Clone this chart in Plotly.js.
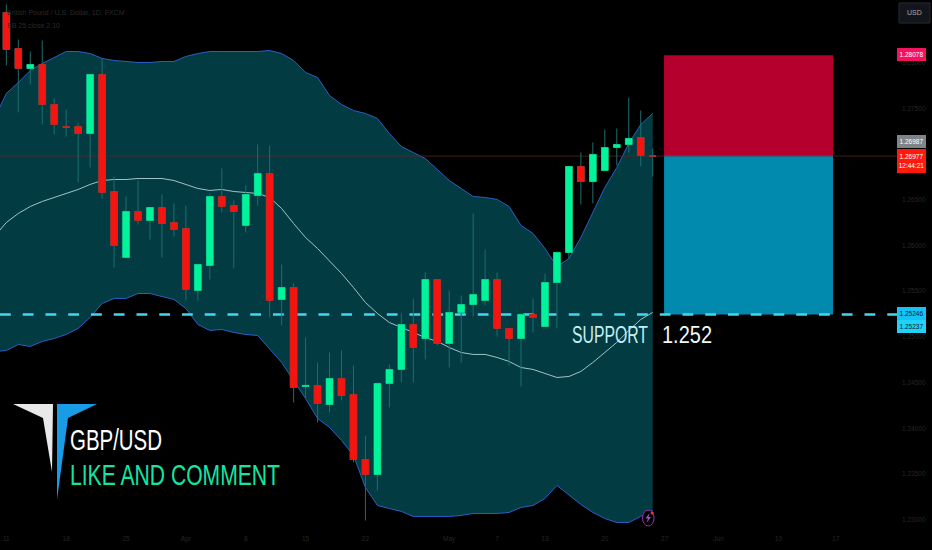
<!DOCTYPE html>
<html><head><meta charset="utf-8">
<script src="https://cdn.plot.ly/plotly-3.0.1.min.js"></script>
<style>html,body{margin:0;padding:0;background:#000}#c{width:932px;height:550px}</style></head>
<body><div id="c"></div>
<script>
const open_=[1.28547,1.28153,1.27935,1.27978,1.27541,1.27301,1.27301,1.27224,1.27869,1.26590,1.25869,1.26372,1.26273,1.26415,1.26251,1.26186,1.25508,1.25781,1.26535,1.26437,1.26219,1.26546,1.26787,1.25410,1.25541,1.24459,1.24470,1.24262,1.24546,1.24371,1.23661,1.23497,1.24492,1.24645,1.25136,1.24983,1.25628,1.24929,1.25268,1.25355,1.25399,1.25628,1.25093,1.24983,1.25246,1.25115,1.25595,1.25923,1.26863,1.26699,1.26820,1.27071,1.27104,1.27180,1.26980];
const high_=[1.28634,1.28251,1.28120,1.28241,1.27607,1.27486,1.27344,1.27869,1.28044,1.26754,1.26535,1.26710,1.26415,1.26557,1.26459,1.26437,1.25792,1.26568,1.26842,1.26492,1.26656,1.27104,1.27093,1.25792,1.25585,1.24994,1.24721,1.24830,1.24852,1.24688,1.23923,1.24492,1.24699,1.25257,1.25421,1.25705,1.25628,1.25508,1.25453,1.26350,1.25956,1.25705,1.25093,1.25257,1.25421,1.25694,1.25934,1.26863,1.27016,1.27126,1.27268,1.27279,1.27618,1.27475,1.27060];
const low_=[1.27967,1.27454,1.27760,1.27322,1.27213,1.27191,1.26688,1.26852,1.26514,1.25759,1.25869,1.26229,1.26065,1.25869,1.26098,1.25399,1.25399,1.25628,1.26361,1.25749,1.26142,1.26437,1.25213,1.25126,1.24284,1.24328,1.24065,1.24175,1.24306,1.23628,1.22994,1.23322,1.24229,1.24502,1.24502,1.24754,1.24907,1.24666,1.24721,1.25224,1.25344,1.25005,1.24688,1.24459,1.25049,1.25115,1.25093,1.25858,1.26448,1.26459,1.26820,1.26874,1.27016,1.26863,1.26754];
const close_=[1.28142,1.27935,1.27978,1.27541,1.27322,1.27290,1.27224,1.27869,1.26579,1.26000,1.26372,1.26273,1.26415,1.26240,1.26175,1.25519,1.25792,1.26535,1.26426,1.26372,1.26557,1.26787,1.25399,1.25541,1.24448,1.24470,1.24273,1.24546,1.24360,1.23661,1.23497,1.24492,1.24645,1.25136,1.24885,1.25628,1.24929,1.25268,1.25355,1.25464,1.25628,1.25093,1.24983,1.25246,1.25213,1.25595,1.25923,1.26863,1.26699,1.26995,1.27071,1.27104,1.27169,1.26984,1.26977];

const bbUpper=[1.27388,1.27661,1.27781,1.27913,1.27989,1.28055,1.28120,1.28120,1.28098,1.28044,1.28022,1.28011,1.28000,1.28000,1.28011,1.28011,1.28066,1.28098,1.28120,1.28120,1.28120,1.28120,1.28120,1.28131,1.28098,1.28022,1.27891,1.27836,1.27639,1.27541,1.27475,1.27443,1.27388,1.27224,1.27082,1.27016,1.26951,1.26831,1.26710,1.26623,1.26535,1.26525,1.26503,1.26426,1.26219,1.26131,1.25967,1.25770,1.25858,1.26087,1.26361,1.26634,1.26852,1.27115,1.27322,1.27443];
const bbBasis=[1.26098,1.26251,1.26350,1.26426,1.26481,1.26525,1.26568,1.26612,1.26667,1.26710,1.26721,1.26721,1.26732,1.26732,1.26732,1.26710,1.26667,1.26623,1.26601,1.26612,1.26590,1.26579,1.26568,1.26525,1.26404,1.26240,1.26087,1.25967,1.25836,1.25694,1.25541,1.25377,1.25257,1.25158,1.25104,1.25049,1.24994,1.24951,1.24885,1.24830,1.24809,1.24809,1.24776,1.24732,1.24666,1.24645,1.24601,1.24557,1.24568,1.24623,1.24721,1.24830,1.24940,1.25071,1.25191,1.25268];
const bbLower=[1.24841,1.24852,1.24918,1.24896,1.24951,1.24983,1.25027,1.25093,1.25213,1.25366,1.25421,1.25421,1.25475,1.25475,1.25442,1.25410,1.25311,1.25136,1.25071,1.25082,1.25049,1.25027,1.25016,1.24874,1.24721,1.24524,1.24328,1.24109,1.24011,1.23869,1.23705,1.23355,1.23158,1.23125,1.23093,1.23038,1.23038,1.23038,1.23038,1.23049,1.23071,1.23071,1.23071,1.23082,1.23136,1.23158,1.23235,1.23377,1.23278,1.23169,1.23082,1.23016,1.22972,1.22972,1.23038,1.23104];

const targetPrice=1.28078, entryPrice=1.26987, lastPrice=1.26977, stopPrice=1.25246;
const tradeStart=54.95, tradeEnd=69.07;
const xTickVals=[0,5,10,15,20,25,30,37,41,45,50,55,59.5,64.5,69.3];
const xTickText=['11','18','25','Apr','8','15','22','May','7','13','20','27','Jun','10','17'];
const yTicks=[1.23,1.235,1.24,1.245,1.25,1.255,1.26,1.265,1.275,1.28];

const PW=897, PH=530;
const X=p=>p/PW, Y=p=>1-p/PH;
const idx=open_.map((_,i)=>i);
const bandX=bbUpper.map((_,i)=>i-1);
const xEnds=[-0.53,74.41];
const yEnds=[1.22890,1.28683];
const poly=(pts)=>'M '+pts.map(p=>X(p[0])+' '+Y(p[1])).join(' L ')+' Z';

const traces=[
 {type:'scatter',mode:'lines',x:bandX,y:bbUpper,line:{color:'#2a5fc4',width:1},hoverinfo:'skip'},
 {type:'scatter',mode:'lines',x:bandX,y:bbLower,line:{color:'#2a5fc4',width:1},fill:'tonexty',fillcolor:'#033b42',hoverinfo:'skip'},
 {type:'scatter',mode:'lines',x:bandX,y:bbBasis,line:{color:'#9fc4c6',width:1},hoverinfo:'skip'},
 {type:'scatter',mode:'lines',x:xEnds,y:[lastPrice,lastPrice],line:{color:'#64262a',width:0.7},hoverinfo:'skip'},
 {type:'scatter',mode:'lines',x:xEnds,y:[stopPrice,stopPrice],line:{color:'#45d6ee',width:2.5,dash:'10.8px,11.95px'},hoverinfo:'skip'},
 {type:'candlestick',xaxis:'x2',yaxis:'y2',x:idx,open:open_,high:high_,low:low_,close:close_,whiskerwidth:0,
  increasing:{line:{color:'#1d6f6c',width:1},fillcolor:'#00f59b'},
  decreasing:{line:{color:'#1d6f6c',width:1},fillcolor:'#f5140f'},hoverinfo:'skip'},
 {type:'candlestick',xaxis:'x2',yaxis:'y2',x:idx,open:open_,close:close_,
  high:open_.map((o,i)=>Math.max(o,close_[i])),low:open_.map((o,i)=>Math.min(o,close_[i])),whiskerwidth:0,
  increasing:{line:{color:'#00f59b',width:0.5},fillcolor:'#00f59b'},
  decreasing:{line:{color:'#f5140f',width:0.5},fillcolor:'#f5140f'},hoverinfo:'skip'}
];

const sans='"Liberation Sans",Arial,sans-serif';
const note=(text,px,py,size,color,extra)=>Object.assign({xref:'paper',yref:'paper',x:X(px),y:Y(py),text,showarrow:false,
  xanchor:'left',yanchor:'middle',align:'left',font:{family:sans,size,color}},extra||{});
const big=(text,cx,py,size,color)=>note(text,cx,py,size,color,{xanchor:'center'});
const tag=(text,py,h,bg,color)=>note(text,911.5,py,6.5,color,{xanchor:'center',width:29,height:h,bgcolor:bg,align:'center',borderpad:0,borderwidth:0});
const squeezed={'SUPPORT':[572,76],'1.252':[662,50],'GBP/USD':[70,92],'LIKE AND COMMENT':[70,210]};

const layout={
 width:932,height:550,margin:{l:0,r:35,t:0,b:20},paper_bgcolor:'#000',plot_bgcolor:'rgba(0,0,0,0)',showlegend:false,
 boxgap:0.2,dragmode:false,
 xaxis:{range:xEnds,type:'linear',showgrid:false,zeroline:false,showline:false,rangeslider:{visible:false},
  tickmode:'array',tickvals:xTickVals,ticktext:xTickText,ticks:'',ticklabelstandoff:3,tickfont:{family:sans,size:6.5,color:'#262626'}},
 yaxis:{range:yEnds,side:'right',showgrid:false,zeroline:false,showline:false,
  tickmode:'array',tickvals:yTicks,ticktext:yTicks.map(v=>v.toFixed(5)),ticks:'',ticklabelstandoff:4,tickfont:{family:sans,size:6.5,color:'#262626'}},
 xaxis2:{range:xEnds,type:'linear',overlaying:'x',visible:false,rangeslider:{visible:false}},
 yaxis2:{range:yEnds,overlaying:'y',side:'right',visible:false},
 shapes:[
  {type:'rect',layer:'below',xref:'x',yref:'y',x0:tradeStart,x1:tradeEnd,y0:entryPrice,y1:targetPrice,fillcolor:'#b5002e',line:{width:0}},
  {type:'rect',layer:'below',xref:'x',yref:'y',x0:tradeStart,x1:tradeEnd,y0:stopPrice,y1:entryPrice,fillcolor:'#0289ae',line:{width:0}},
  {type:'path',xref:'paper',yref:'paper',path:poly([[13,404],[53,404],[52,472],[43,418]]),fillcolor:'#e8e8e8',line:{width:0}},
  {type:'path',xref:'paper',yref:'paper',path:poly([[57,404],[97,404],[68,418],[57,500]]),fillcolor:'#1a9be6',line:{width:0}},
  {type:'circle',xref:'paper',yref:'paper',x0:X(642.5),x1:X(654),y0:Y(526),y1:Y(510),fillcolor:'#000',line:{color:'#9c2fb0',width:1}},
  {type:'path',xref:'paper',yref:'paper',path:poly([[649.5,513],[645.5,518.5],[648,518.5],[646.5,523],[651,517],[648.5,517]]),fillcolor:'#a64bc0',line:{width:0}},
  {type:'circle',xref:'paper',yref:'paper',x0:X(650.7),x1:X(653.7),y0:Y(514.5),y1:Y(511.5),fillcolor:'#f23645',line:{width:0}},
  {type:'rect',xref:'paper',yref:'paper',x0:X(899),x1:X(930),y0:Y(23),y1:Y(3),fillcolor:'#12161c',line:{color:'#262a30',width:1}}
 ],
 annotations:[
  note('British Pound / U.S. Dollar, 1D, FXCM',5,13,7,'#2a2a2a'),
  note('BB 25 close 2 10',5,26,7,'#2a2a2a'),
  big('SUPPORT',600,335,23,'#c6eff2'),
  big('1.252',690,335,23,'#f2f8f8'),
  big('GBP/USD',116,440,29,'#ffffff'),
  big('LIKE AND COMMENT',175,474,30,'#12e6a2'),
  note('USD',914.5,13,7,'#a8acb2',{xanchor:'center'}),
  tag('1.28078',54.5,13,'#f2125f','#ffffff'),
  tag('1.26987',141.5,12.5,'#808488','#ffffff'),
  tag('1.26977<br>12:44:21',160.5,24,'#ff1a0c','#ffffff'),
  tag('1.25246',313.5,13,'#14c2f5','#05222c'),
  tag('1.25237',326.5,13,'#20d2f8','#05222c')
 ]
};
Plotly.newPlot('c',traces,layout,{staticPlot:true,displayModeBar:false}).then(()=>{
 document.querySelectorAll('.annotation-text').forEach(t=>{
  const s=squeezed[t.textContent];
  if(s){
   t.setAttribute('textLength',s[1]);t.setAttribute('lengthAdjust','spacingAndGlyphs');
   const left=t.getBoundingClientRect().left;
   t.setAttribute('x',parseFloat(t.getAttribute('x')||0)+(s[0]-left));
  }
 });
});
</script></body></html>
